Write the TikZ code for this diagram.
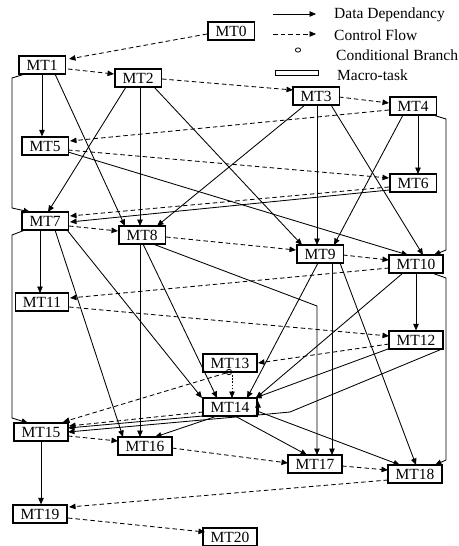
\documentclass[tikz,border=0pt]{standalone}
\usepackage{fontspec}
\setmainfont{Liberation Serif}
\usetikzlibrary{arrows.meta}
\begin{document}
\begin{tikzpicture}[x=1pt,y=-1pt,
  mt/.style={draw, line width=1.2pt, inner xsep=7.6pt, inner ysep=0pt,
             minimum height=18pt, font=\fontsize{15.5}{17}\selectfont},
  dep/.style={line width=0.85pt, -{Triangle[length=6.5pt,width=5.5pt]}},
  ctl/.style={dep, dash pattern=on 4.5pt off 3pt},
  dotl/.style={dep, dash pattern=on 1.6pt off 1.6pt},
  lbl/.style={anchor=west, inner sep=0pt, font=\fontsize{15.5}{17}\selectfont}
]
\useasboundingbox (0,0) rectangle (458,546);

% legend
\coordinate (lgA) at (273,14);  \coordinate (lgB) at (316,14);
\coordinate (lgC) at (273,34);  \coordinate (lgD) at (316,34);
\draw[dep] (lgA) -- (lgB);
\draw[ctl] (lgC) -- (lgD);
\draw[line width=0.8pt] (298,50) ellipse [x radius=2.6pt, y radius=2.1pt];
\draw[line width=1pt] (275,70) rectangle (318,75);
\node[lbl] (lgDep) at (334,15) {Data Dependancy};
\node[lbl] (lgCtl) at (334,35) {Control Flow};
\node[lbl] (lgCnd) at (336,55) {Conditional Branch};
\node[lbl] (lgMac) at (337,75) {Macro-task};

% macro-tasks
\node[mt] (MT0)  at (231,31)  {MT0};
\node[mt] (MT1)  at (42,65)   {MT1};
\node[mt] (MT2)  at (138,78)  {MT2};
\node[mt] (MT3)  at (316,96)  {MT3};
\node[mt] (MT4)  at (413,106) {MT4};
\node[mt] (MT5)  at (45,146)  {MT5};
\node[mt] (MT6)  at (413,183) {MT6};
\node[mt] (MT7)  at (45,221)  {MT7};
\node[mt] (MT8)  at (142,235) {MT8};
\node[mt] (MT9)  at (320,254) {MT9};
\node[mt] (MT10) at (416,264) {MT10};
\node[mt] (MT11) at (42,302)  {MT11};
\node[mt] (MT12) at (416,340) {MT12};
\node[mt] (MT13) at (230,363) {MT13};
\node[mt] (MT14) at (230,407) {MT14};
\node[mt] (MT15) at (41,432)  {MT15};
\node[mt] (MT16) at (145,446) {MT16};
\node[mt] (MT17) at (315,464) {MT17};
\node[mt] (MT18) at (415,474) {MT18};
\node[mt] (MT19) at (40,514)  {MT19};
\node[mt] (MT20) at (230,537) {MT20};

% data dependencies
\draw[dep] (MT1.south) -- (MT1.south |- MT5.north);
\draw[dep] ([shift={(13,9)}]MT1.center) -- ([shift={(-17,-9)}]MT8.center);
\draw[dep] ([shift={(-17,9)}]MT1.center) -- ++(-13,4)
           -- ([shift={(-33,-13)}]MT7.center) -- ([shift={(-15,-9)}]MT7.center);
\draw[dep] ([shift={(-12,9)}]MT2.center) -- ([shift={(3,-9)}]MT7.center);
\draw[dep] ([shift={(2,9)}]MT2.center) -- ([shift={(-2,-9)}]MT8.center);
\draw[dep] ([shift={(16,9)}]MT2.center) -- ([shift={(-18,-9)}]MT9.center);
\draw[dep] ([shift={(-11,9)}]MT3.center) -- ([shift={(15,-9)}]MT8.center);
\draw[dep] ([shift={(1,9)}]MT3.center) -- ([shift={(-3,-9)}]MT9.center);
\draw[dep] ([shift={(15,9)}]MT3.center) -- ([shift={(7,-9)}]MT10.center);
\draw[dep] ([shift={(5,9)}]MT4.center) -- ([shift={(5,-9)}]MT6.center);
\draw[dep] ([shift={(-10,9)}]MT4.center) -- ([shift={(14,-9)}]MT9.center);
\draw[dep] ([shift={(20,9)}]MT4.center) -- ++(13,4)
           -- ([shift={(30,-14)}]MT10.center) -- ([shift={(18,-9)}]MT10.center);
\draw[dep] ([shift={(23,6)}]MT5.center) -- ([shift={(-8,-9)}]MT10.center);
\draw[dep] ([shift={(-24,7)}]MT6.center) -- ([shift={(25,1)}]MT7.center);
\draw[dep] ([shift={(-5,9)}]MT7.center) -- ([shift={(-2,-9)}]MT11.center);
\draw[dep] ([shift={(-20,9)}]MT7.center) -- ++(-13,5)
           -- ([shift={(-29,-14)}]MT15.center) -- ([shift={(-13,-9)}]MT15.center);
\draw[dep] ([shift={(10,9)}]MT7.center) -- ([shift={(-22,-9)}]MT16.center);
\draw[dep] ([shift={(22,9)}]MT7.center) -- ([shift={(-28,-9)}]MT14.center);
\draw[dep] ([shift={(-2,9)}]MT8.center) -- ([shift={(-5,-9)}]MT16.center);
\draw[dep] ([shift={(1,9)}]MT8.center) -- ([shift={(-13,-9)}]MT14.center);
\draw[dep] ([shift={(11,9)}]MT8.center) -- ([shift={(2,-158)}]MT17.center)
           -- ([shift={(2,-9)}]MT17.center);
\draw[dep] ([shift={(12,9)}]MT9.center) -- ([shift={(17,-9)}]MT17.center);
\draw[dep] ([shift={(-2,9)}]MT9.center) -- ([shift={(17,-9)}]MT14.center);
\draw[dep] ([shift={(20,9)}]MT9.center) -- ([shift={(1,-9)}]MT18.center);
\draw[dep] (MT10.south) -- (MT12.north);
\draw[dep] ([shift={(-13,9)}]MT10.center) -- ([shift={(26,-9)}]MT14.center);
\draw[dep] ([shift={(16,9)}]MT10.center) -- ([shift={(30,14)}]MT10.center)
           -- ([shift={(31,-14)}]MT18.center) -- ([shift={(20,-9)}]MT18.center);
\draw[dep] ([shift={(-28,9)}]MT12.center) -- ([shift={(25,-9)}]MT14.center);
\coordinate (j14) at ([shift={(28,8)}]MT14.center);
\draw[dep] ([shift={(26,9)}]MT12.center) -- ([shift={(60,5)}]MT14.center)
           -- (j14) -- ([shift={(27,0)}]MT15.center);
\draw[dep] (j14) -- ([shift={(28,-6)}]MT14.center);
\draw[dep] ([shift={(-27,9)}]MT14.center) -- ([shift={(27,-4)}]MT15.center);
\draw[dep] ([shift={(-13,9)}]MT14.center) -- ([shift={(10,-9)}]MT16.center);
\draw[dep] ([shift={(5,9)}]MT14.center) -- ([shift={(-8,-9)}]MT17.center);
\draw[dep] ([shift={(27,4)}]MT14.center) -- ([shift={(-15,-9)}]MT18.center);
\draw[dep] (MT15.south) -- (MT15.south |- MT19.north);

% control flow
\draw[ctl] ([shift={(-24,3)}]MT0.center) -- ([shift={(27,-6)}]MT1.center);
\draw[ctl] ([shift={(26,4)}]MT1.center) -- ([shift={(-24,-4)}]MT2.center);
\draw[ctl] ([shift={(24,1)}]MT2.center) -- ([shift={(-23,-6)}]MT3.center);
\draw[ctl] ([shift={(23,1)}]MT3.center) -- ([shift={(-24,-3)}]MT4.center);
\draw[ctl] ([shift={(-24,4)}]MT4.center) -- ([shift={(25,-5)}]MT5.center);
\draw[ctl] ([shift={(23,4)}]MT5.center) -- ([shift={(-24,-5)}]MT6.center);
\draw[ctl] ([shift={(-24,4)}]MT6.center) -- ([shift={(25,-5)}]MT7.center);
\draw[ctl] ([shift={(24,5)}]MT7.center) -- ([shift={(-24,-4)}]MT8.center);
\draw[ctl] ([shift={(24,2)}]MT8.center) -- ([shift={(-24,-4)}]MT9.center);
\draw[ctl] ([shift={(23,1)}]MT9.center) -- ([shift={(-27,-4)}]MT10.center);
\draw[ctl] ([shift={(-27,4)}]MT10.center) -- ([shift={(28,-4)}]MT11.center);
\draw[ctl] ([shift={(27,5)}]MT11.center) -- ([shift={(-27,-4)}]MT12.center);
\draw[ctl] ([shift={(-27,4)}]MT12.center) -- ([shift={(28,0)}]MT13.center);
\draw[ctl] ([shift={(-27,5)}]MT14.center) -- ([shift={(28,-6)}]MT15.center);
\draw[ctl] ([shift={(27,4)}]MT15.center) -- ([shift={(-27,-5)}]MT16.center);
\draw[ctl] ([shift={(27,2)}]MT16.center) -- ([shift={(-27,-1)}]MT17.center);
\draw[ctl] ([shift={(27,2)}]MT17.center) -- ([shift={(-27,-4)}]MT18.center);
\draw[ctl] ([shift={(-27,6)}]MT18.center) -- ([shift={(29,-7)}]MT19.center);
\draw[ctl] ([shift={(28,4)}]MT19.center) -- ([shift={(-25,-5)}]MT20.center);

% conditional branch of MT13
\coordinate (br13) at ([shift={(-1,9)}]MT13.center);
\draw[line width=0.8pt] (br13) circle [radius=2.7pt];
\draw[ctl] ([shift={(-4,10)}]MT13.center) -- ([shift={(22,-10)}]MT15.center);
\draw[dotl] ([shift={(2,12)}]MT13.center) -- ([shift={(2,-9)}]MT14.center);
\end{tikzpicture}
\end{document}
